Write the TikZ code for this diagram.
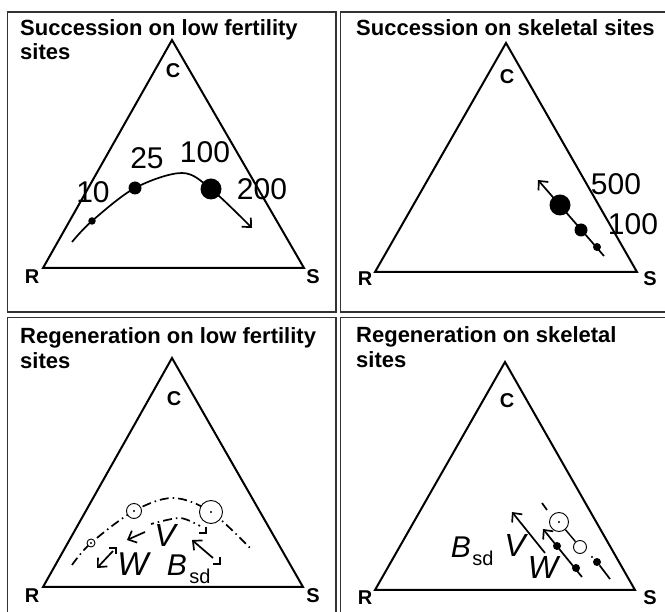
\documentclass[tikz,border=0pt]{standalone}
\usepackage{fontspec}
\setmainfont{Liberation Sans}
\usetikzlibrary{arrows.meta,calc}
\begin{document}
\begin{tikzpicture}[x=1pt,y=-1pt,
  panel/.style={draw=black!80, line width=1.4pt},
  tri/.style={draw, line width=2pt, line join=miter},
  ttl/.style={anchor=base west, font=\bfseries\fontsize{22}{22}\selectfont, inner sep=0pt},
  vtx/.style={font=\bfseries\fontsize{20}{20}\selectfont, inner sep=0pt},
  num/.style={font=\fontsize{30}{30}\selectfont, inner sep=0pt},
  dot/.style={circle, fill=black, inner sep=0pt, minimum size=#1},
  ring/.style={circle, draw, line width=0.9pt, inner sep=0pt, minimum size=#1},
  pip/.style={circle, fill=black, inner sep=0pt, minimum size=2.2pt},
  curve/.style={line width=1.7pt},
  dashdot/.style={line width=1.7pt, dash pattern=on 9pt off 4pt on 1.5pt off 4pt},
  tip/.style={-{Straight Barb[length=7pt,width=13pt]}},
  arr/.style={line width=1.7pt, tip},
  corner/.style={line width=1.3pt},
  big/.style={font=\itshape\fontsize{#1}{#1}\selectfont, inner sep=0pt},
  sub/.style={font=\fontsize{20}{20}\selectfont, inner sep=0pt},
]
\useasboundingbox (0,0) rectangle (665,612);
\fill[white] (0,0) rectangle (665,612);

% ---- panel frames ----
\draw[panel] (7.5,12) rectangle (336,312);
\draw[panel] (666,12) -- (340.5,12) -- (340.5,312) -- (666,312);
\draw[panel] (336,613) -- (336,317.5) -- (7.5,317.5) -- (7.5,613);
\draw[panel] (666,317.5) -- (340.5,317.5) -- (340.5,613);

% ---- titles ----
\node[ttl] (t1a) at (20,36) {Succession on low fertility};
\node[ttl] (t1b) at (20,60) {sites};
\node[ttl] (t2a) at (356,36) {Succession on skeletal sites};
\node[ttl] (t3a) at (20,344) {Regeneration on low fertility};
\node[ttl] (t3b) at (20,369) {sites};
\node[ttl] (t4a) at (356,343) {Regeneration on skeletal};
\node[ttl] (t4b) at (356,368) {sites};

% ================= top left =================
\coordinate (tlC) at (172,40);
\coordinate (tlR) at (43,268);
\coordinate (tlS) at (304,268);
\draw[tri] (tlC) -- (tlR) -- (tlS) -- cycle;
\node[vtx] (tlc) at (173,71) {C};
\node[vtx] (tlr) at (32,277) {R};
\node[vtx] (tls) at (313,277) {S};

\coordinate (a0) at (72,242);
\coordinate (a1) at (92,221);
\coordinate (a2) at (135,188);
\coordinate (a3) at (182,173);
\coordinate (a4) at (211,189);
\coordinate (a5) at (252,228);
\draw[curve, tip] plot[smooth, tension=0.55] coordinates {(a0) (a1) (a2) (a3) (a4) (a5)};
\node[dot=7.5pt] (d10) at (a1) {};
\node[dot=13pt] (d25) at (a2) {};
\node[dot=21pt] (d100) at (a4) {};
\node[num] (n10) at (93,192) {10};
\node[num] (n25) at (147,158) {25};
\node[num] (n100) at (205,152) {100};
\node[num] (n200) at (262,189) {200};

% ================= top right =================
\coordinate (trC) at (506,43);
\coordinate (trR) at (375,272);
\coordinate (trS) at (637,272);
\draw[tri] (trC) -- (trR) -- (trS) -- cycle;
\node[vtx] (trc) at (507,77) {C};
\node[vtx] (trr) at (365,279) {R};
\node[vtx] (trs) at (650,279) {S};

\coordinate (b0) at (604,256);
\coordinate (b1) at (538,180);
\draw[arr] (b0) -- (b1);
\node[dot=8pt] (e1) at (597,247) {};
\node[dot=13pt] (e2) at (581,230) {};
\node[dot=21pt] (e3) at (560,205) {};
\node[num] (n500) at (616,184) {500};
\node[num] (n100b) at (633,224) {100};

% ================= bottom left =================
\coordinate (blC) at (172,358);
\coordinate (blR) at (43,587);
\coordinate (blS) at (303,587);
\draw[tri] (blC) -- (blR) -- (blS) -- cycle;
\node[vtx] (blc) at (174,399) {C};
\node[vtx] (blr) at (32,596) {R};
\node[vtx] (bls) at (313,596) {S};

\coordinate (c0) at (72,565);
\coordinate (c1) at (91,543);
\coordinate (c2) at (134,511);
\coordinate (c3) at (173,498);
\coordinate (c4) at (211,512);
\coordinate (c5) at (252,550);
\draw[dashdot] plot[smooth, tension=0.55] coordinates {(c0) (c1) (c2) (c3) (c4) (c5)};
\node[ring=8pt, fill=white] (r1) at (c1) {};
\node[ring=15pt, fill=white] (r2) at (c2) {};
\node[ring=21pt, fill=white, minimum height=23pt] (r3) at (c4) {};
\node[pip] (p1) at (c1) {};
\node[pip] (p2) at (c2) {};
\node[pip] (p3) at (c4) {};

\coordinate (i0) at (151,524);
\coordinate (i1) at (180,518);
\coordinate (i2) at (200,526);
\draw[dashdot, dash phase=6pt] plot[smooth] coordinates {(i0) (i1) (i2)};

% corner marks
\coordinate (k1) at (206,533);
\draw[corner] ($(k1)+(0,-6)$) -- (k1) -- ++(-7,0);
\coordinate (k2) at (116,548);
\draw[corner] ($(k2)+(-7,0)$) -- (k2) -- ++(0,6);
\coordinate (k3) at (220,564);
\draw[corner] ($(k3)+(0,-7)$) -- (k3) -- ++(-7,0);

% arrows
\coordinate (v0) at (145,532);
\coordinate (v1) at (127,540);
\draw[arr] (v0) -- (v1);
\coordinate (w0) at (113,551);
\coordinate (w1) at (97,568);
\draw[arr] (w0) -- (w1);
\coordinate (s0) at (213,558);
\coordinate (s1) at (192,540);
\draw[arr] (s0) -- (s1);

\node[big=32] (V1) at (165,535) {V};
\node[big=33] (W1) at (133,564) {W};
\node[big=30] (B1) at (177,565) {B};
\node[sub] (sd1) at (200,576) {sd};

% ================= bottom right =================
\coordinate (brC) at (505,362);
\coordinate (brR) at (375,590);
\coordinate (brS) at (635,590);
\draw[tri] (brC) -- (brR) -- (brS) -- cycle;
\node[vtx] (brc) at (507,401) {C};
\node[vtx] (brr) at (365,598) {R};
\node[vtx] (brs) at (650,598) {S};

\coordinate (f0) at (545,553);
\coordinate (f1) at (512,512);
\draw[arr] (f0) -- (f1);
\coordinate (g0) at (582,577);
\coordinate (g1) at (543,529);
\draw[arr] (g0) -- (g1);
\node[dot=8pt] (g2) at (557,546) {};
\node[dot=8pt] (g3) at (576,568) {};
\coordinate (h0) at (610,579);
\node[dot=8pt] (h1) at (597,562) {};
\draw[curve] (h0) -- (h1);
\node[pip] (h2) at (592,557) {};
\coordinate (m0) at (542,503);
\coordinate (m1) at (547,510);
\draw[curve] (m0) -- (m1);
\node[ring=19pt] (q1) at (559,522) {};
\node[pip] (q1p) at (559,522) {};
\node[ring=13pt] (q2) at (580,547) {};
\draw[line width=1.4pt] (q1) -- (q2);

\node[big=30] (B2) at (461,547) {B};
\node[sub] (sd2) at (483,558) {sd};
\node[big=32] (V2) at (515,545) {V};
\node[big=32] (W2) at (543,567) {W};
\end{tikzpicture}
\end{document}
